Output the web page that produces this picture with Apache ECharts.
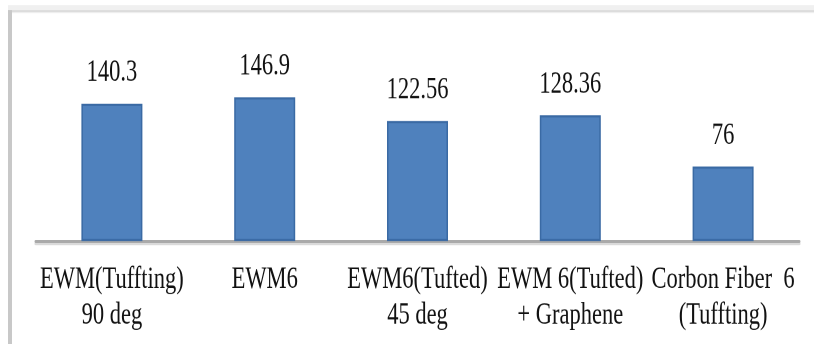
<!DOCTYPE html>
<html>
<head>
<meta charset="utf-8">
<script src="https://cdn.jsdelivr.net/npm/echarts@6/dist/echarts.min.js"></script>
<style>
  html, body { margin: 0; padding: 0; background: #ffffff; }
  body { min-height: 344px; }
  #chart { width: 814px; height: 245px; transform: scaleY(1.40408); transform-origin: 0 0; margin-bottom: 99px; }
</style>
</head>
<body>
<div id="chart"></div>
<script>
const categories = [
  'EWM(Tuffting)\n90 deg',
  'EWM6',
  'EWM6(Tufted)\n45 deg',
  'EWM 6(Tufted)\n+ Graphene',
  'Corbon Fiber  6\n(Tuffting)'
];
const values = [140.3, 146.9, 122.56, 128.36, 76];
const valueLabels = ['140.3', '146.9', '122.56', '128.36', '76'];

const chart = echarts.init(document.getElementById('chart'), null, { renderer: 'canvas', devicePixelRatio: 2 });

chart.setOption({
  animation: false,
  backgroundColor: '#ffffff',
  textStyle: { fontFamily: 'Liberation Serif' },
  graphic: [
    { type: 'rect', shape: { x: 8, y: 3.6, width: 806, height: 5.7 }, style: { fill: '#f0f0f0' }, silent: true },
    { type: 'rect', shape: { x: 8, y: 7.1, width: 806, height: 1.5 }, style: { fill: '#dcdcdc' }, silent: true },
    { type: 'rect', shape: { x: 8, y: 7.1, width: 4, height: 240 }, style: { fill: '#c8c8c8' }, silent: true }
  ],
  grid: { left: 35.5, right: 14.5, top: 32.19, bottom: 73.36, containLabel: false },
  xAxis: {
    type: 'category',
    data: categories,
    axisTick: { show: false },
    axisLine: { show: true, lineStyle: { color: '#aaaaaa', width: 2, shadowColor: '#dadada', shadowOffsetY: 1.6, shadowBlur: 0 } },
    axisLabel: {
      interval: 0,
      margin: 14.6,
      color: '#111111',
      fontFamily: 'Liberation Serif',
      fontSize: 22.5,
      lineHeight: 25.6,
      hideOverlap: false
    },
    splitLine: { show: false }
  },
  yAxis: {
    type: 'value',
    min: 0,
    max: 200,
    show: false,
    splitLine: { show: false }
  },
  series: [{
    type: 'bar',
    data: values,
    barWidth: 61,
    itemStyle: { color: '#4f81bd', borderColor: '#3a6aa4', borderWidth: 1.5 },
    label: {
      show: true,
      position: 'top',
      distance: 10.5,
      color: '#111111',
      fontFamily: 'Liberation Serif',
      fontSize: 22.5,
      formatter: p => valueLabels[p.dataIndex]
    }
  }]
});
</script>
</body>
</html>
